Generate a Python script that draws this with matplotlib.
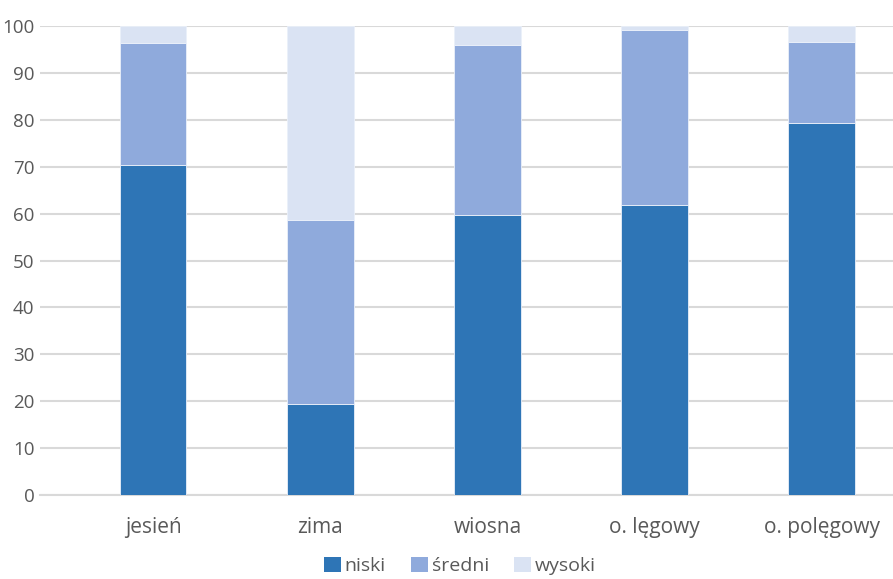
import matplotlib
matplotlib.use("Agg")
import matplotlib.pyplot as plt
import numpy as np
from matplotlib.patches import Patch

categories = ["jesień", "zima", "wiosna", "o. lęgowy", "o. polęgowy"]
niski = [70.3, 19.3, 59.7, 61.9, 79.4]
sredni = [26.1, 39.3, 36.2, 37.3, 17.2]
wysoki = [3.6, 41.4, 4.1, 0.8, 3.4]
series_names = ["niski", "średni", "wysoki"]
colors = ["#2E75B6", "#8FAADC", "#DAE3F3"]
yticks = [0, 10, 20, 30, 40, 50, 60, 70, 80, 90, 100]

plt.rcParams['font.family'] = ['Open Sans', 'DejaVu Sans']
fig = plt.figure(figsize=(8.93, 5.79), dpi=100)
ax = fig.add_axes([40/893, 1-495/579, 1-40/893, (495-26)/579])

x = np.arange(len(categories))
bottom = np.zeros(len(categories))
for vals, c, name in zip([niski, sredni, wysoki], colors, series_names):
    ax.bar(x, vals, width=0.4, bottom=bottom, color=c, label=name,
           edgecolor="#EAF0FA", linewidth=0.6, zorder=3)
    bottom += np.array(vals)

ax.set_ylim(0, 100)
ax.set_xlim(-0.676, 4.425)
ax.set_yticks(yticks)
ax.yaxis.grid(True, color="#D9D9D9", linewidth=1.5, zorder=0)
ax.set_axisbelow(True)
for s in ["top", "right", "left"]:
    ax.spines[s].set_visible(False)
ax.spines["bottom"].set_color("#D9D9D9")
ax.spines["bottom"].set_linewidth(1.5)
ax.tick_params(axis="both", length=0, colors="#595959")
ax.tick_params(axis="x", pad=16, labelsize=15)
ax.tick_params(axis="y", pad=4, labelsize=13.5)
ax.set_xticks(x)
ax.set_xticklabels(categories)

handles = [Patch(facecolor=c, edgecolor="none") for c in colors]
fig.legend(handles, series_names, loc="center", bbox_to_anchor=(460/893, 1-566/579),
           ncol=3, frameon=False, fontsize=14, handlelength=0.85, handleheight=0.85,
           handletextpad=0.2, columnspacing=1.3, labelcolor="#595959")

fig.savefig("out.png", dpi=100)
